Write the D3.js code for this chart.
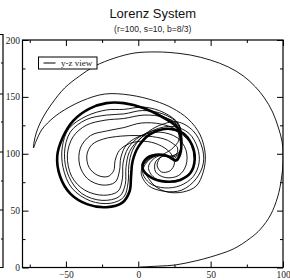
<!DOCTYPE html>
<html>
<head>
<meta charset="utf-8">
<script src="https://cdn.jsdelivr.net/npm/d3@7"></script>
<style>
  html, body { margin: 0; padding: 0; background: #fff; }
  svg { display: block; }
  .tick text { font-family: "Liberation Serif", "DejaVu Serif", serif; font-size: 9.5px; fill: #222; }
  .tick line { stroke: #000; }
</style>
</head>
<body>
<div id="chart"></div>
<script>
// y-z view of the trajectory (y, z)
const transient = [
  [1.2, 0.4], [15, 1.3], [25.5, 2.2], [39.3, 5.7], [49.8, 9.2], [65.7, 16.3], [77.5, 25.9],
  [84.5, 33.8], [91.4, 46.2], [96.3, 62], [99, 78.7], [100.1, 94.5], [99.4, 110.3], [96.9, 122.6],
  [92.8, 136.7], [87.2, 149], [81, 158.7], [72.6, 168.4], [62.2, 176.3], [49.8, 182.4], [35.9, 186.8],
  [22, 189], [11.6, 189.5], [-2.3, 188.6], [-16.2, 184.2], [-30, 177.1], [-40.5, 168.4], [-50.9, 157.8],
  [-59.9, 143.7], [-66.1, 131.4], [-70.3, 119.1], [-72, 110.3], [-72.4, 105.1], [-70.8, 110.5],
  [-66.8, 120.9], [-62.7, 127], [-54.4, 135.8], [-39.1, 146.4], [-23.1, 152.5], [-5.8, 151.6],
  [11.6, 146.4], [23.4, 140.2], [34.5, 130.5], [42.8, 116.5], [46.3, 98.9], [44.9, 84], [40, 71.6],
  [31, 66.4], [19.9, 66.4], [11.6, 71.6], [6, 80.4], [3, 88], [7, 95], [15, 99], [22, 97], [27, 101]
];

const laps = [
  [27, 106], [20, 112], [10, 115], [0, 116], [-12, 115.5], [-24, 113], [-32, 108], [-35.5, 99],
  [-34, 88], [-28, 81], [-21, 80], [-17, 85], [-16, 94], [-13, 103], [-6, 109], [4, 111], [14, 108],
  [22, 101], [25, 92], [22, 85], [16, 84], [13, 90], [16, 98], [23, 104], [28, 112],
  [27, 120], [16, 126], [2, 127], [-10, 123], [-22, 120], [-33, 116], [-40, 105], [-40.5, 90],
  [-35, 78], [-25, 72.5], [-16, 75], [-13, 85], [-12, 97], [-8, 108], [2, 116], [15, 119], [27, 114],
  [33, 103], [33, 90], [28, 81], [19, 79], [12, 84], [12, 93], [18, 98], [25, 96], [29, 102], [30, 114],
  [28, 125], [18, 132], [4, 134], [-10, 131], [-23, 129.5], [-36, 125], [-45, 115], [-49, 99],
  [-46, 80], [-37, 68], [-24, 63.5], [-14, 67], [-11, 78], [-10.5, 92], [-7, 105], [1, 115], [13, 121],
  [26, 120], [35, 111], [39, 99], [37, 86], [30, 78], [20, 75.5], [11, 79], [7, 88], [11, 96],
  [19, 99], [26, 95], [29, 102], [30, 115],
  [27, 127], [17, 135], [3, 138], [-10, 135], [-22, 134], [-36, 130], [-47, 119], [-51, 100],
  [-48, 80], [-39, 65], [-25, 59], [-13, 62.5], [-9, 73], [-8.5, 88], [-6, 102], [1, 113], [11, 121],
  [24, 124], [35, 118], [41, 105], [42, 92], [38, 80], [29, 72], [18, 70], [8, 74], [3, 84], [7, 94],
  [15, 99], [23, 97], [28, 100], [30, 112],
  [28, 126], [18, 136], [4, 141], [-10, 139], [-22, 138.5], [-36, 133], [-48, 122], [-52.5, 106],
  [-52, 88], [-46, 70], [-33, 58.5], [-19, 56.5], [-10, 62], [-7, 75], [-6.5, 90], [-4, 103], [2, 114],
  [13, 124], [27, 128], [38, 120], [44, 106], [45, 92], [40, 78], [30, 68], [18, 67], [7, 72], [2, 83],
  [5, 93], [13, 99], [22, 98], [28, 101], [30, 113], [27, 125], [17, 133], [4, 140]
];

// the closed orbit the trajectory settles on (traced many times -> thick band)
const cycle = [
  [-10, 144.5], [-22, 144.5], [-34, 139.5], [-45, 129], [-52, 115], [-56, 98], [-54, 80], [-47, 65],
  [-35, 55.5], [-22, 53], [-11, 57], [-6, 67], [-5, 80], [-4, 93], [0, 106], [8, 117], [20, 122],
  [31, 118], [37, 108], [39, 95], [36, 83], [29, 77], [19, 75.5], [9, 79], [3, 87], [5, 95], [12, 99],
  [20, 98], [26, 94], [29, 100], [29.5, 112], [27, 123], [17, 132], [4, 140]
];

const xMajor = [-50, 0, 50, 100], xMinor = [-75, -25, 25, 75];
const yMajor = [0, 50, 100, 150, 200], yMinor = [25, 75, 125, 175];
const title = "Lorenz System", subtitle = "(r=100, s=10, b=8/3)", legendLabel = "y-z view";

const W = 290, H = 280;
const m = { l: 22.5, r: 283, t: 40, b: 267.5 };

const svg = d3.select("#chart").append("svg").attr("width", W).attr("height", H);

const x = d3.scaleLinear().domain([-80, 100]).range([m.l, m.r]);
const y = d3.scaleLinear().domain([0, 200]).range([m.b, m.t]);

// neighbour panel edge on the far left
const edge = svg.append("g").attr("stroke", "#000").attr("fill", "none");
edge.append("path").attr("d", `M0,34.5H3V${m.b}H0`).attr("stroke-width", 1.2);
[63, 94, 122, 152, 181, 210, 239].forEach((ty, i) => {
  edge.append("line").attr("x1", i % 2 ? 0 : 1).attr("x2", 3).attr("y1", ty).attr("y2", ty);
});

const clip = svg.append("clipPath").attr("id", "clip")
  .append("rect").attr("x", m.l).attr("y", m.t).attr("width", m.r - m.l).attr("height", m.b - m.t);

const line = d3.line().x((d) => x(d[0])).y((d) => y(d[1])).curve(d3.curveCatmullRom.alpha(0.5));
const lineClosed = d3.line().x((d) => x(d[0])).y((d) => y(d[1])).curve(d3.curveCatmullRomClosed.alpha(0.5));

const gData = svg.append("g").attr("clip-path", "url(#clip)").attr("fill", "none").attr("stroke", "#000");
gData.append("path").attr("d", line(transient.concat(laps.slice(0, 1)))).attr("stroke-width", 0.9);
gData.append("path").attr("d", line(laps.concat([cycle[0]]))).attr("stroke-width", 0.9);
gData.append("path").attr("d", lineClosed(cycle)).attr("stroke-width", 2.6);

// axes: inward ticks on all four sides
function axis(gen, tx, ty, vals, size, labels, pad) {
  const g = svg.append("g").attr("transform", `translate(${tx},${ty})`)
    .call(gen.tickValues(vals).tickSize(size).tickPadding(pad)
      .tickFormat(labels ? d3.format("d") : () => ""));
  g.select(".domain").remove();
  return g;
}
axis(d3.axisBottom(x), 0, m.b, xMajor, -6, true, 4);
axis(d3.axisBottom(x), 0, m.b, xMinor, -3, false, 4);
axis(d3.axisTop(x), 0, m.t, xMajor, -6, false, 4);
axis(d3.axisTop(x), 0, m.t, xMinor, -3, false, 4);
axis(d3.axisLeft(y), m.l, 0, yMajor, -6, true, 2.5);
axis(d3.axisLeft(y), m.l, 0, yMinor, -3, false, 2.5);
axis(d3.axisRight(y), m.r, 0, yMajor, -6, false, 2);
axis(d3.axisRight(y), m.r, 0, yMinor, -3, false, 2);

svg.append("rect").attr("x", m.l).attr("y", m.t).attr("width", m.r - m.l).attr("height", m.b - m.t)
  .attr("fill", "none").attr("stroke", "#000").attr("stroke-width", 1.2);

// legend
const lg = svg.append("g").attr("transform", "translate(38.5,57)");
lg.append("rect").attr("width", 58.5).attr("height", 12).attr("fill", "#fff").attr("stroke", "#000");
lg.append("line").attr("x1", 5).attr("x2", 17).attr("y1", 6).attr("y2", 6).attr("stroke", "#000");
lg.append("text").attr("x", 22.5).attr("y", 9).text(legendLabel)
  .style("font-family", "'Liberation Serif', serif").style("font-size", "9px").attr("fill", "#222");

// titles
const cx = (m.l + m.r) / 2;
svg.append("text").attr("x", cx).attr("y", 18.3).attr("text-anchor", "middle").text(title)
  .style("font-family", "'Liberation Sans', Arial, sans-serif").style("font-size", "13px").attr("fill", "#111");
svg.append("text").attr("x", cx).attr("y", 31.5).attr("text-anchor", "middle").text(subtitle)
  .style("font-family", "'Liberation Sans', Arial, sans-serif").style("font-size", "8.5px").attr("fill", "#222");
</script>
</body>
</html>
